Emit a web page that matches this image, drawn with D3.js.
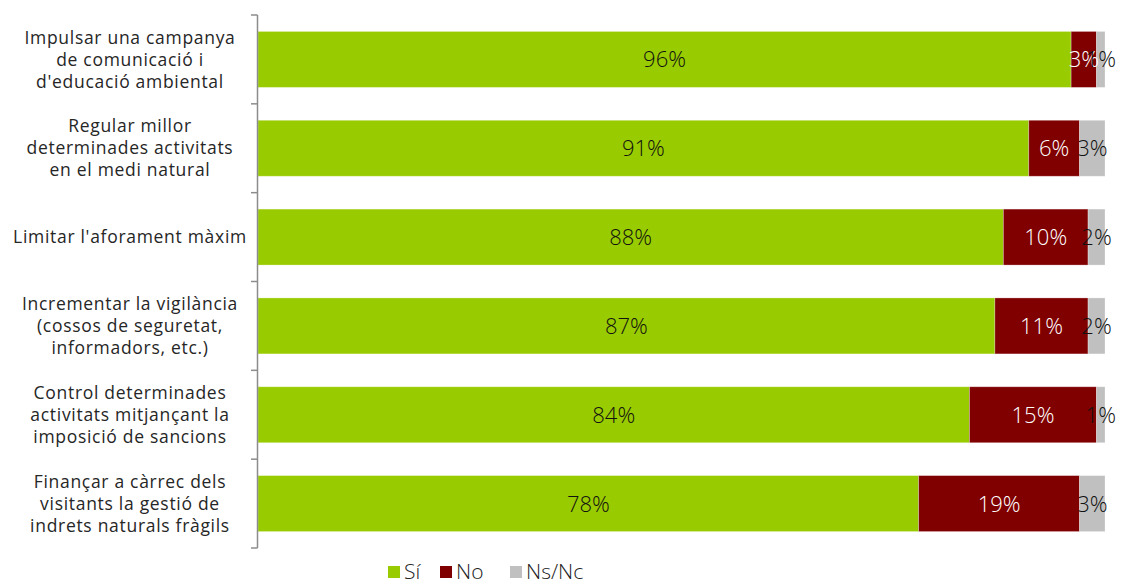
<!DOCTYPE html>
<html>
<head>
<meta charset="utf-8">
<script src="https://cdn.jsdelivr.net/npm/d3@7"></script>
<style>
  body { margin: 0; background: #fff; }
  svg { display: block; font-family: "Open Sans", sans-serif; }
</style>
</head>
<body>
<svg id="chart" width="1128" height="587"></svg>
<script>
// Survey measures (one label line per array entry)
const categories = [
  ["Impulsar una campanya", "de comunicació i", "d'educació ambiental"],
  ["Regular millor", "determinades activitats", "en el medi natural"],
  ["Limitar l'aforament màxim"],
  ["Incrementar la vigilància", "(cossos de seguretat,", "informadors, etc.)"],
  ["Control determinades", "activitats mitjançant la", "imposició de sancions"],
  ["Finançar a càrrec dels", "visitants la gestió de", "indrets naturals fràgils"]
];
const siValues   = [96, 91, 88, 87, 84, 78];
const noValues   = [3, 6, 10, 11, 15, 19];
const nsncValues = [1, 3, 2, 2, 1, 3];
const seriesNames = ["Sí", "No", "Ns/Nc"];
const seriesColors = ["#99cc00", "#800000", "#c0c0c0"];
const labelColors = ["#111", "#fff", "#111"];

const svg = d3.select("#chart");
const margin = { top: 15, left: 258, right: 23, bottom: 39 };
const W = 1128, H = 587;

const rows = categories.map((c, i) => ({
  key: i, si: siValues[i], no: noValues[i], nsnc: nsncValues[i]
}));
const keys = ["si", "no", "nsnc"];
const stacked = d3.stack().keys(keys)(rows);

const x = d3.scaleLinear().domain([0, 100]).range([margin.left, W - margin.right]);
const y = d3.scaleBand().domain(d3.range(categories.length))
  .range([margin.top, H - margin.bottom]).paddingInner(0.37).paddingOuter(0.185);

// bars
stacked.forEach((layer, li) => {
  svg.append("g").selectAll("rect").data(layer).join("rect")
    .attr("x", d => x(d[0]))
    .attr("y", (d, i) => y(i))
    .attr("width", d => x(d[1]) - x(d[0]))
    .attr("height", y.bandwidth())
    .attr("fill", seriesColors[li])
    .attr("stroke", "#fff").attr("stroke-opacity", 0.35).attr("stroke-width", 0.8);
});
// value labels, drawn after all bars so overflowing labels stay on top
stacked.forEach((layer, li) => {
  svg.append("g").selectAll("text").data(layer).join("text")
    .attr("x", d => (x(d[0]) + x(d[1])) / 2)
    .attr("y", (d, i) => y(i) + y.bandwidth() / 2)
    .attr("dy", "0.36em")
    .attr("text-anchor", "middle")
    .attr("font-size", 22)
    .attr("font-weight", 300)
    .attr("fill", labelColors[li])
    .text(d => (d[1] - d[0]) + "%");
});

// category axis with ticks at band boundaries
const axisG = svg.append("g");
const boundaries = d3.range(categories.length + 1)
  .map(i => margin.top + i * (H - margin.bottom - margin.top) / categories.length);
axisG.append("line")
  .attr("x1", margin.left - 0.5).attr("x2", margin.left - 0.5)
  .attr("y1", boundaries[0]).attr("y2", boundaries[boundaries.length - 1])
  .attr("stroke", "#8c8c8c").attr("stroke-width", 1.5);
axisG.selectAll("line.tick").data(boundaries).join("line")
  .attr("class", "tick")
  .attr("x1", margin.left - 7).attr("x2", margin.left - 0.5)
  .attr("y1", d => d).attr("y2", d => d)
  .attr("stroke", "#8c8c8c").attr("stroke-width", 1.5);

// category labels
const lineH = 22;
categories.forEach((lines, i) => {
  const cy = y(i) + y.bandwidth() / 2;
  const t = axisG.append("text")
    .attr("text-anchor", "middle")
    .attr("font-size", 17.5)
    .attr("letter-spacing", 0.7)
    .attr("fill", "#262626");
  lines.forEach((ln, j) => {
    t.append("tspan")
      .attr("x", 130)
      .attr("y", cy + (j - (lines.length - 1) / 2) * lineH)
      .attr("dy", "0.35em")
      .text(ln);
  });
});

// legend
const legendX = [388, 440, 510];
const lg = svg.append("g");
seriesNames.forEach((name, i) => {
  lg.append("rect").attr("x", legendX[i]).attr("y", 566).attr("width", 12).attr("height", 12)
    .attr("fill", seriesColors[i]);
  lg.append("text").attr("x", legendX[i] + 16).attr("y", 572).attr("dy", "0.34em")
    .attr("font-size", 21).attr("font-weight", 300).attr("fill", "#222").text(name);
});
</script>
</body>
</html>
